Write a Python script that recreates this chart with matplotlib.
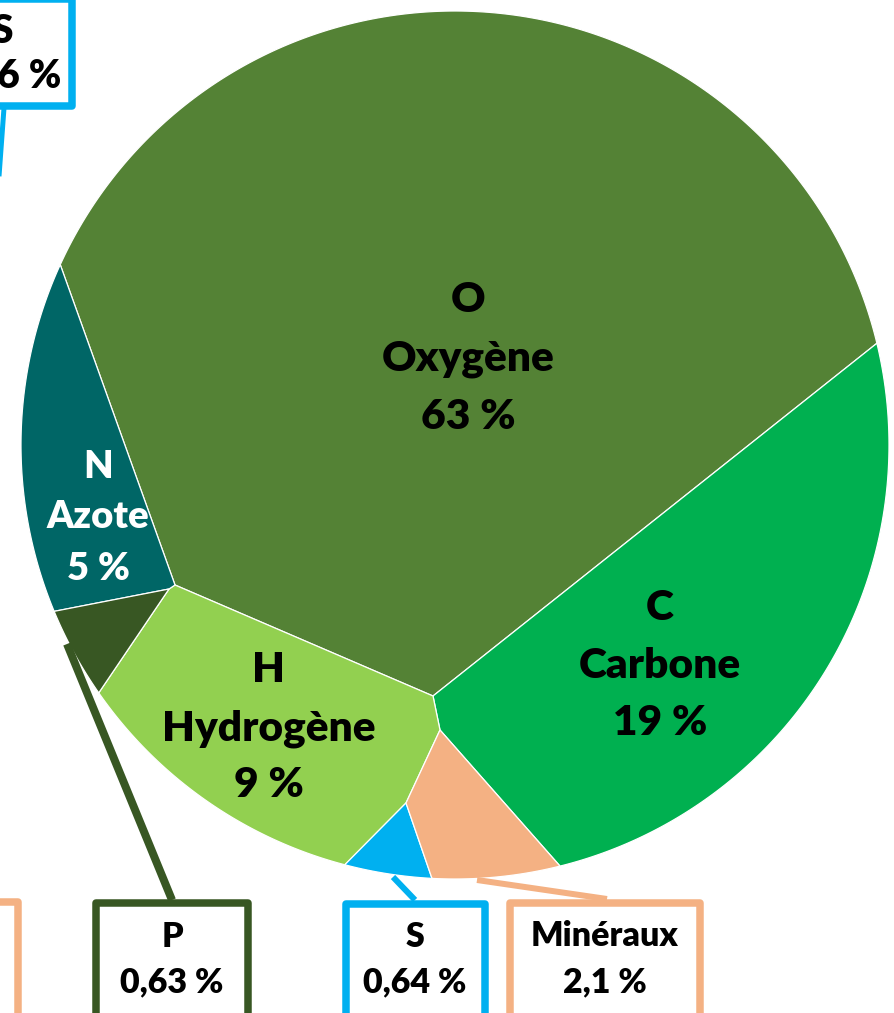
import numpy as np
import matplotlib
matplotlib.use('Agg')
import matplotlib.pyplot as plt
from matplotlib.patches import Polygon, Rectangle

# ---------------- data ----------------
symbols = ['O', 'C', 'H', 'N', 'P', 'S', 'Minéraux']
names = ['Oxygène', 'Carbone', 'Hydrogène', 'Azote', '', '', '']
percents = ['63 %', '19 %', '9 %', '5 %', '0,63 %', '0,64 %', '2,1 %']
values = [63, 19, 9, 5, 0.63, 0.64, 2.1]
colors = ['#548235', '#00B050', '#92D050', '#006666', '#385723', '#00B0F0', '#F4B183']
cut_box_lines = ['S', '0,06 %']   # partially visible callout, top-left

# ---------------- layout (pixel space) ----------------
W, H = 895, 1013
CX, CY, R = 455, 445, 434
junctions = {'NOH': (175, 585), 'NPH': (169, 589), 'OHC': (433, 696),
             'HCM': (440, 730), 'HSM': (406, 803)}
rim = {'ON': (61, 265), 'NP': (55, 611), 'PH': (100, 692), 'HS': (345, 864),
       'SM': (432, 878), 'MC': (560, 866), 'CO': (878, 343)}
cell_paths = {'O': ['ON', 'NOH', 'OHC', 'CO'],
              'C': ['CO', 'OHC', 'HCM', 'MC'],
              'Minéraux': ['MC', 'HCM', 'HSM', 'SM'],
              'S': ['SM', 'HSM', 'HS'],
              'H': ['HS', 'HSM', 'HCM', 'OHC', 'NOH', 'NPH', 'PH'],
              'P': ['PH', 'NPH', 'NP'],
              'N': ['NP', 'NPH', 'NOH', 'ON']}
# inside labels: x, list of baselines, font size, colour
inner_labels = {'O': (468, [312, 370, 429], 30.5, 'black'),
                'C': (660, [620, 678, 735], 30.5, 'black'),
                'H': (269, [682, 740, 797], 30.5, 'black'),
                'N': (98, [478, 528, 580], 27.5, 'white')}
# callout boxes: (left, right, top) outer edges, text x, baselines, leader (x0,y0,x1,y1), lw
callouts = {'P': (92, 252, 899, 172, [947, 992], (172, 900, 67, 644), 8),
            'S': (342, 489, 900, 415, [947, 992], (415, 900, 393, 877), 6),
            'Minéraux': (506, 704, 899, 605, [946, 992], (607, 899, 477, 880), 6)}

FONT = 'Lato'
WEIGHT = 'heavy'


def rim_angle(p):
    return np.arctan2(p[1] - CY, p[0] - CX)


fig = plt.figure(figsize=(W / 100, H / 100), dpi=100)
ax = fig.add_axes([0, 0, 1, 1])
ax.set_xlim(0, W)
ax.set_ylim(H, 0)
ax.axis('off')

# cells
for sym, col in zip(symbols, colors):
    path = cell_paths[sym]
    start, end = path[0], path[-1]
    a0, a1 = rim_angle(rim[start]), rim_angle(rim[end])
    pts = [(CX + R * np.cos(a0), CY + R * np.sin(a0))]
    pts += [junctions[k] for k in path[1:-1]]
    pts.append((CX + R * np.cos(a1), CY + R * np.sin(a1)))
    d = ((a0 - a1 + np.pi) % (2 * np.pi)) - np.pi
    for t in np.linspace(0, 1, 200)[1:-1]:
        a = a1 + d * t
        pts.append((CX + R * np.cos(a), CY + R * np.sin(a)))
    ax.add_patch(Polygon(pts, closed=True, facecolor=col, edgecolor='white',
                         linewidth=0.9, joinstyle='miter'))

# inner labels
for sym, nm, pc in zip(symbols, names, percents):
    if sym not in inner_labels:
        continue
    x, bls, fs, tc = inner_labels[sym]
    for txt, bl in zip([sym, nm, pc], bls):
        ax.text(x, bl, txt, ha='center', va='baseline', fontsize=fs,
                fontfamily=FONT, fontweight=WEIGHT, color=tc)

# callouts
for sym, pc, col in zip(symbols, percents, colors):
    if sym not in callouts:
        continue
    l, r, t, tx, bls, (x0, y0, x1, y1), llw = callouts[sym]
    ax.plot([x0, x1], [y0, y1], color=col, lw=llw * 0.72, solid_capstyle='butt', zorder=3)
    bw = 7.5
    ax.add_patch(Rectangle((l + bw / 2, t + bw / 2), r - l - bw, H + 40 - t,
                           facecolor='white', edgecolor=col, lw=bw * 0.72,
                           joinstyle='round', zorder=4))
    for txt, bl in zip([sym, pc], bls):
        ax.text(tx, bl, txt, ha='center', va='baseline', fontsize=24.5,
                fontfamily=FONT, fontweight=WEIGHT, color='black', zorder=5)

# partially visible callouts at the figure edges
ax.add_patch(Rectangle((-200, 902), 200 + 17.5, 200, facecolor='white',
                       edgecolor=colors[6], lw=7.5 * 0.72, joinstyle='round', zorder=4))
ax.plot([4, -2], [108, 190], color=colors[5], lw=5 * 0.72, solid_capstyle='butt', zorder=3)
ax.add_patch(Rectangle((-200, -1), 200 + 72, 107, facecolor='white',
                       edgecolor=colors[5], lw=7.5 * 0.72, joinstyle='round', zorder=4))
for txt, bl in zip(cut_box_lines, [43, 88]):
    ax.text(2, bl, txt, ha='center', va='baseline', fontsize=28,
            fontfamily=FONT, fontweight=WEIGHT, color='black', zorder=5)

fig.savefig('out.png', dpi=100)
